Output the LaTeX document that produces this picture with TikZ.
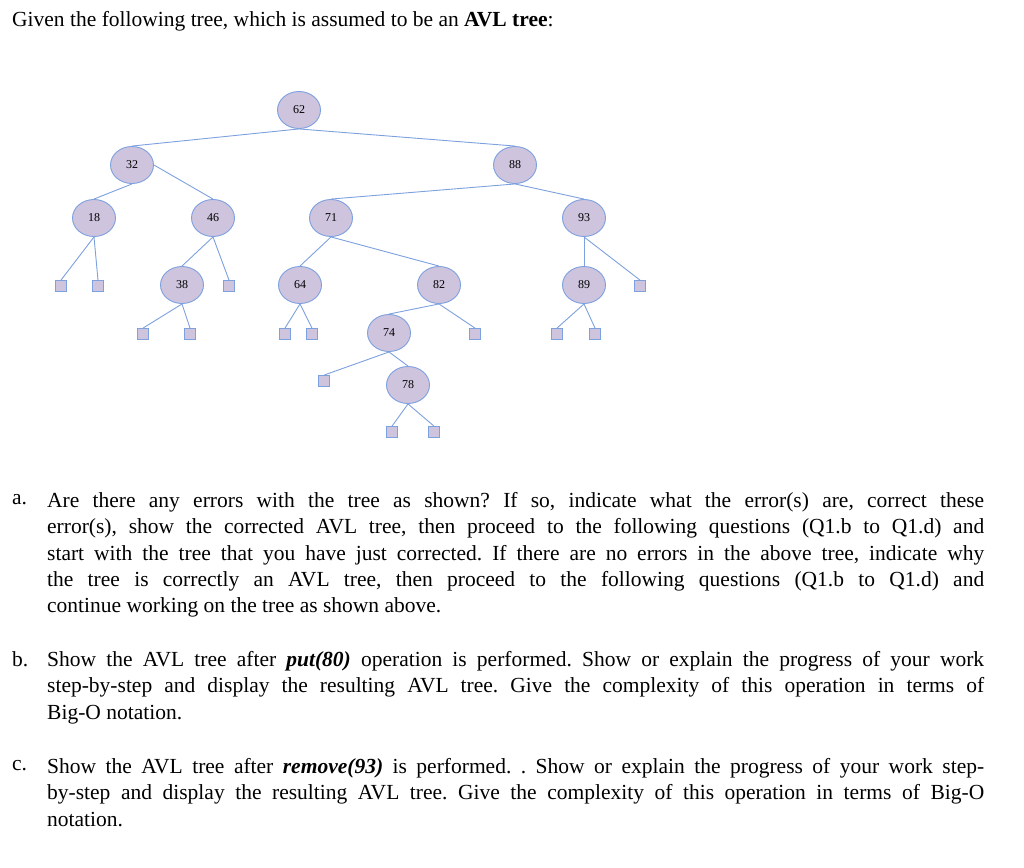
\documentclass[tikz,border=0pt]{standalone}
\usepackage{fontspec}
\setmainfont{Liberation Serif}
\usetikzlibrary{shapes.geometric}
\definecolor{nfill}{RGB}{206,196,222}
\definecolor{nedge}{RGB}{125,160,222}
\frenchspacing
\begin{document}
\begin{tikzpicture}[x=1pt,y=-1pt,
  tn/.style={ellipse,draw=nedge,fill=nfill,line width=0.9pt,minimum width=43pt,minimum height=37pt,inner sep=0pt,font=\fontsize{12}{13}\selectfont},
  lf/.style={rectangle,draw=nedge,fill=nfill,line width=0.8pt,minimum size=11pt,inner sep=0pt},
  ed/.style={draw=nedge,line width=0.9pt},
  para/.style={anchor=north west,text width=937pt,align=justify,inner sep=0pt,font=\fontsize{21.5}{26.4}\selectfont},
  lab/.style={anchor=north west,inner sep=0pt,font=\fontsize{21.5}{26.4}\selectfont}]
\useasboundingbox (0,0) rectangle (1024,867);
\node[lab] (title) at (12,11) {Given the following tree, which is assumed to be an \textbf{AVL tree}:};
\node[tn] (n62) at (299,110) {62};
\node[tn] (n32) at (132,165) {32};
\node[tn] (n88) at (515,165) {88};
\node[tn] (n18) at (94,218) {18};
\node[tn] (n46) at (213,218) {46};
\node[tn] (n71) at (331,218) {71};
\node[tn] (n93) at (584,218) {93};
\node[tn] (n38) at (182,285) {38};
\node[tn] (n64) at (300,285) {64};
\node[tn] (n82) at (439,285) {82};
\node[tn] (n89) at (584,285) {89};
\node[tn] (n74) at (389,333) {74};
\node[tn] (n78) at (408,385) {78};
\node[lf] (l1) at (61,286) {};
\node[lf] (l2) at (98,286) {};
\node[lf] (l3) at (143,334) {};
\node[lf] (l4) at (190,334) {};
\node[lf] (l5) at (229,286) {};
\node[lf] (l6) at (285,334) {};
\node[lf] (l7) at (312,334) {};
\node[lf] (l8) at (324,381) {};
\node[lf] (l9) at (392,432) {};
\node[lf] (l10) at (434,432) {};
\node[lf] (l11) at (475,334) {};
\node[lf] (l12) at (557,334) {};
\node[lf] (l13) at (595,334) {};
\node[lf] (l14) at (640,286) {};
\draw[ed] (n62.south) -- (n32.north); \draw[ed] (n62.south) -- (n88.north);
\draw[ed] (n32.south) -- (n18.north); \draw[ed] (n32.east) -- (n46.north);
\draw[ed] (n88.south) -- (n71.north); \draw[ed] (n88.south) -- (n93.north);
\draw[ed] (n18.south) -- (l1.north); \draw[ed] (n18.south) -- (l2.north);
\draw[ed] (n46.south) -- (n38.north); \draw[ed] (n46.south) -- (l5.north);
\draw[ed] (n38.south) -- (l3.north); \draw[ed] (n38.south) -- (l4.north);
\draw[ed] (n71.south) -- (n64.north); \draw[ed] (n71.south) -- (n82.north);
\draw[ed] (n64.south) -- (l6.north); \draw[ed] (n64.south) -- (l7.north);
\draw[ed] (n82.south) -- (n74.north); \draw[ed] (n82.south) -- (l11.north);
\draw[ed] (n74.south) -- (l8.north); \draw[ed] (n74.south) -- (n78.north);
\draw[ed] (n78.south) -- (l9.north); \draw[ed] (n78.south) -- (l10.north);
\draw[ed] (n93.south) -- (n89.north); \draw[ed] (n93.south) -- (l14.north);
\draw[ed] (n89.south) -- (l12.north); \draw[ed] (n89.south) -- (l13.north);
\node[lab] (la) at (12,494) {a.};
\node[para] (pa) at (47,492) {Are there any errors with the tree as shown? If so, indicate what the error(s) are, correct these\linebreak error(s), show the corrected AVL tree, then proceed to the following questions (Q1.b to Q1.d) and\linebreak start with the tree that you have just corrected. If there are no errors in the above tree, indicate why\linebreak the tree is correctly an AVL tree, then proceed to the following questions (Q1.b to Q1.d) and\linebreak continue working on the tree as shown above.};
\node[lab] (lb) at (12,651) {b.};
\node[para] (pb) at (47,651) {Show the AVL tree after \textbf{\textit{put(80)}} operation is performed. Show or explain the progress of your work\linebreak step-by-step and display the resulting AVL tree. Give the complexity of this operation in terms of\linebreak Big-O notation.};
\node[lab] (lc) at (12,760) {c.};
\node[para] (pc) at (47,758) {Show the AVL tree after \textbf{\textit{remove(93)}} is performed. . Show or explain the progress of your work step-\linebreak by-step and display the resulting AVL tree. Give the complexity of this operation in terms of Big-O\linebreak notation.};
\end{tikzpicture}
\end{document}
